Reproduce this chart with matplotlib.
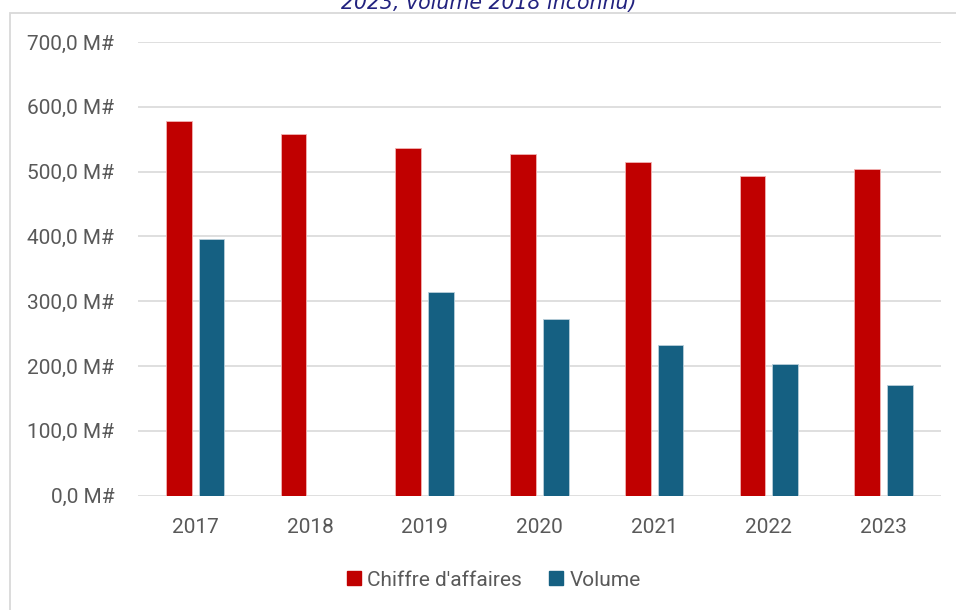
import numpy as np
import matplotlib
matplotlib.use("Agg")
import matplotlib.pyplot as plt
from matplotlib.patches import Rectangle, Patch
from matplotlib.ticker import FuncFormatter, MultipleLocator

years = ["2017", "2018", "2019", "2020", "2021", "2022", "2023"]
chiffre_affaires = [578, 558, 536, 527, 515, 494, 504]
volume = [396, np.nan, 314, 272, 232, 203, 171]
series_names = ["Chiffre d'affaires", "Volume"]
title_text = "2023, volume 2018 inconnu)"

RED = "#C00000"
BLUE = "#156082"
GRID = "#D9D9D9"
TXT = "#595959"
FONT = ["Roboto", "DejaVu Sans"]

W, H = 956, 610
fig = plt.figure(figsize=(W / 100, H / 100), dpi=100)

# outer chart frame (clipped by the image edges on right/bottom)
fig.patches.append(Rectangle((9.5 / W, -0.2), 1.2, (H - 13) / H + 0.2,
                             transform=fig.transFigure, fill=False,
                             edgecolor=GRID, linewidth=1.3, zorder=0))

ax = fig.add_axes([137.9 / W, (H - 495.7) / H, 802.9 / W, (495.7 - 42) / H])

x = np.arange(len(years))
bw = 0.224
off = 0.1426
ax.bar(x - off, chiffre_affaires, bw, color=RED, edgecolor="#F2B3B3",
       linewidth=0.6, zorder=3)
ax.bar(x + off, volume, bw, color=BLUE, edgecolor="#B9CFDA",
       linewidth=0.6, zorder=3)

ax.set_xlim(-0.5, len(years) - 0.5)
ax.set_ylim(0, 700)
ax.yaxis.set_major_locator(MultipleLocator(100))
ax.yaxis.set_major_formatter(FuncFormatter(
    lambda v, p: f"{v:.1f}".replace(".", ",") + " M#"))
ax.set_xticks(x)
ax.set_xticklabels(years)

ax.grid(axis="y", color=GRID, linewidth=1.2, zorder=0)
ax.set_axisbelow(True)
for s in ax.spines.values():
    s.set_visible(False)
ax.tick_params(axis="both", length=0, labelsize=15, labelcolor=TXT)
ax.tick_params(axis="y", pad=17)
ax.tick_params(axis="x", pad=16)
for lab in ax.get_xticklabels() + ax.get_yticklabels():
    lab.set_family(FONT)

handles = [Patch(facecolor=RED, edgecolor=RED), Patch(facecolor=BLUE, edgecolor=BLUE)]
fig.legend(handles, series_names, loc="center", bbox_to_anchor=(494 / W, 30 / H),
           ncol=2, frameon=False, prop={"family": FONT, "size": 15},
           labelcolor=TXT, handlelength=0.67, handleheight=0.67,
           handletextpad=0.3, columnspacing=1.3, borderaxespad=0)

fig.text(489 / W, (H - 2.5) / H, title_text, ha="center", va="center",
         fontsize=14.8, style="italic", color="#22227F", family="DejaVu Sans")

fig.savefig("out.png", dpi=100)
